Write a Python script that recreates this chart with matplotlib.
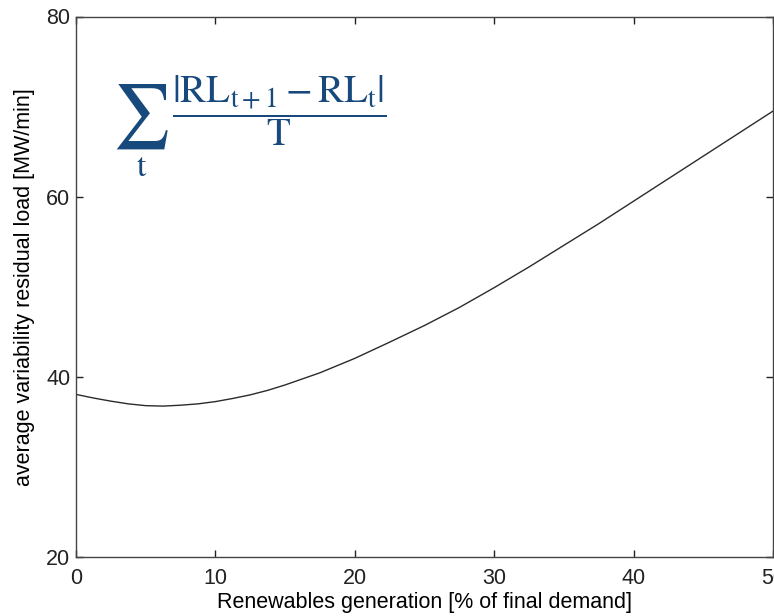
import matplotlib
matplotlib.use("Agg")
import matplotlib.pyplot as plt

plt.rcParams['font.family'] = ['Liberation Sans', 'DejaVu Sans']
plt.rcParams['mathtext.fontset'] = 'stix'

share = [0, 1.25, 2.5, 3.75, 5, 6.25, 7.5, 8.75, 10, 11.25, 12.5, 13.75, 15, 17.5, 20, 22.5, 25,
         27.5, 30, 32.5, 35, 37.5, 40, 42.5, 45, 47.5, 50]
variability = [38.05, 37.65, 37.3, 37.0, 36.8, 36.75, 36.85, 37.0, 37.25, 37.6, 38.0, 38.5, 39.1,
               40.45, 42.05, 43.85, 45.7, 47.7, 49.9, 52.2, 54.6, 57.0, 59.5, 62.0, 64.5, 67.0, 69.5]

xticks = [0, 10, 20, 30, 40, 50]
yticks = [20, 40, 60, 80]

W, H = 774, 616
fig = plt.figure(figsize=(W/100, H/100), dpi=100)
ax = fig.add_axes([76/W, 59/H, 697/W, 540.5/H])
ax.plot(share, variability, color='#2b2b2b', lw=1.0)
ax.set_xlim(0, 50)
ax.set_ylim(20, 80)
ax.set_xticks(xticks)
ax.set_yticks(yticks)
ax.tick_params(direction='in', length=5, width=1, top=True, right=True,
               labelsize=15.5, colors='#222222')
ax.tick_params(axis='x', pad=8)
ax.tick_params(axis='y', pad=4)
for s in ax.spines.values():
    s.set_color('#444444')
    s.set_linewidth(1.0)
ax.set_xlabel('Renewables generation [% of final demand]', fontsize=15.5, labelpad=2)
ax.set_ylabel('average variability residual load [MW/min]', fontsize=15.5, labelpad=8)

blue = '#17497d'
def px(x, y):
    return x / W, 1 - y / H

fig.text(*px(140, 117), r'$\sum$', fontsize=46, color=blue, ha='center', va='center')
fig.text(*px(142, 167), r'$\mathrm{t}$', fontsize=24, color=blue, ha='center', va='center')
fig.text(*px(172, 111), r'$\dfrac{|\mathrm{RL}_{\mathrm{t+1}}-\mathrm{RL}_{\mathrm{t}}|}{\mathrm{T}}$',
         fontsize=28, color=blue, ha='left', va='center')

fig.savefig('out.png', dpi=100)
